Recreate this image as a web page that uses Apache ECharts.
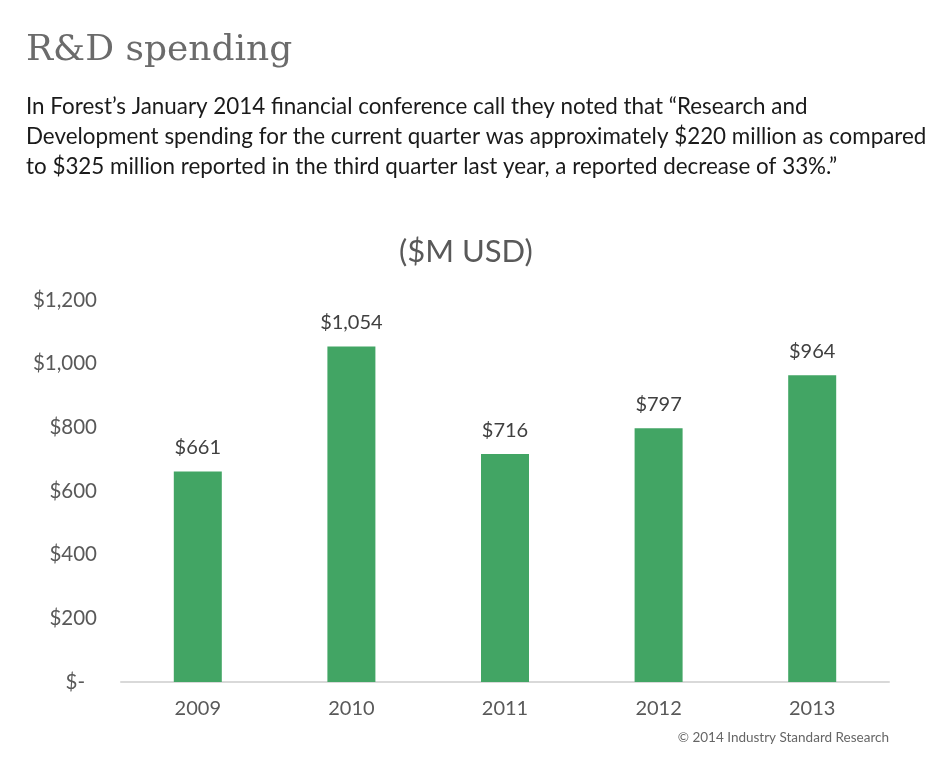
<!DOCTYPE html>
<html>
<head>
<meta charset="utf-8">
<script src="https://cdn.jsdelivr.net/npm/echarts@6/dist/echarts.min.js"></script>
<style>
  html, body { margin: 0; padding: 0; background: #fff; }
  #chart { width: 948px; height: 759px; }
</style>
</head>
<body>
<div id="chart"></div>
<script>
var years = ['2009', '2010', '2011', '2012', '2013'];
var spending = [661, 1054, 716, 797, 964];
var yTicks = [0, 200, 400, 600, 800, 1000, 1200];

var money = function (v) {
    return '$' + v.toString().replace(/\B(?=(\d{3})+(?!\d))/g, ',');
};

var myChart = echarts.init(document.getElementById('chart'));

var option = {
    backgroundColor: '#fff',
    title: [
        {
            text: 'R&D spending',
            left: 21,
            top: 28,
            textStyle: {fontFamily: 'DejaVu Serif', fontWeight: 'normal', fontSize: 36, color: '#6b6b6b'}
        },
        {
            text: 'In Forest\u2019s January 2014 financial conference call they noted that \u201cResearch and\n' +
                  'Development spending for the current quarter was approximately $220 million as compared\n' +
                  'to $325 million reported in the third quarter last year, a reported decrease of 33%.\u201d',
            left: 21,
            top: 87,
            textStyle: {fontFamily: 'Lato', fontWeight: 'normal', fontSize: 22.4, lineHeight: 30, color: '#1a1a1a'}
        },
        {
            text: '($M USD)',
            left: 394,
            top: 231,
            textStyle: {fontFamily: 'Lato', fontWeight: 'normal', fontSize: 31, color: '#595959'}
        },
        {
            text: '\u00a9 2014 Industry Standard Research',
            right: 54,
            top: 726,
            textStyle: {fontFamily: 'Lato', fontWeight: 'normal', fontSize: 13.5, color: '#666'}
        }
    ],
    grid: {left: 121, right: 59, top: 300, bottom: 77},
    xAxis: {
        type: 'category',
        data: years,
        axisLine: {lineStyle: {color: '#d9d9d9', width: 2}},
        axisTick: {show: false},
        axisLabel: {margin: 17, fontFamily: 'Lato', fontSize: 20, color: '#595959'}
    },
    yAxis: {
        type: 'value',
        min: yTicks[0],
        max: yTicks[yTicks.length - 1],
        interval: 200,
        splitLine: {show: false},
        axisLine: {show: false},
        axisTick: {show: false},
        axisLabel: {
            margin: 24,
            fontFamily: 'Lato',
            fontSize: 20.5,
            color: '#595959',
            formatter: function (v) {
                return v === 0 ? '{z|$-}' : money(v);
            },
            rich: {z: {fontFamily: 'Lato', fontSize: 20.5, color: '#595959', padding: [0, 12, 0, 0]}}
        }
    },
    series: [
        {
            name: 'R&D',
            type: 'bar',
            data: spending,
            barWidth: 48,
            itemStyle: {color: '#42a564'},
            label: {
                show: true,
                position: 'top',
                distance: 14,
                fontFamily: 'Lato',
                fontSize: 20,
                color: '#404040',
                formatter: function (p) { return money(p.value); }
            }
        }
    ]
};

myChart.setOption(option);
</script>
</body>
</html>
